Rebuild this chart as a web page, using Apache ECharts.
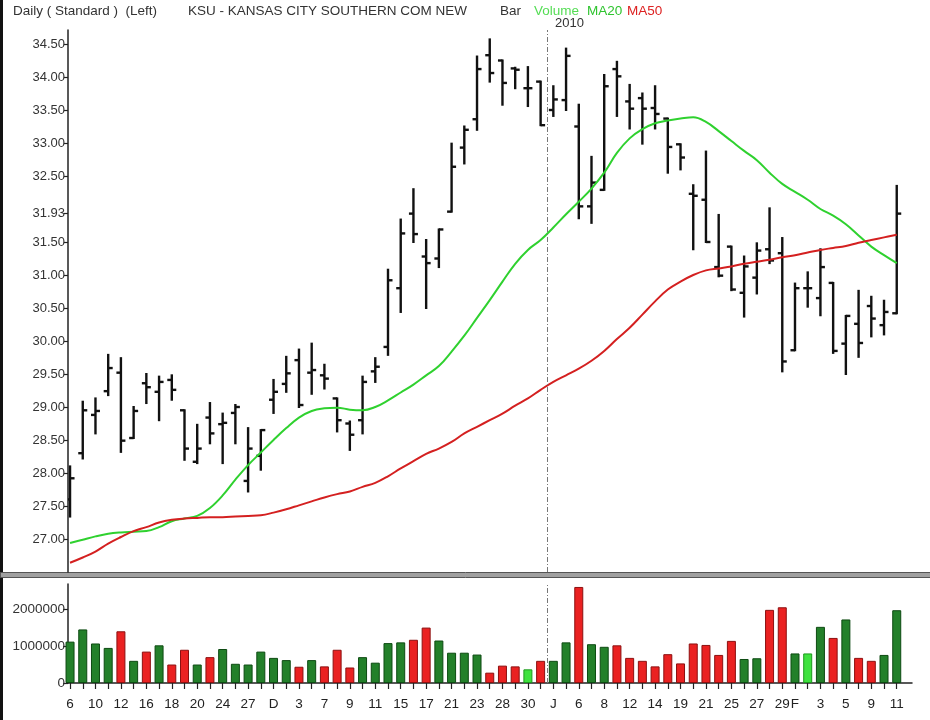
<!DOCTYPE html>
<html>
<head>
<meta charset="utf-8">
<script src="https://cdn.jsdelivr.net/npm/echarts@6.0.0/dist/echarts.min.js"></script>
<style>
  html, body { margin: 0; padding: 0; background: #fff; }
  #chart { width: 930px; height: 720px; }
</style>
</head>
<body>
<div id="chart"></div>
<script>
// ---- Data (KSU daily bars, 6 Nov 2009 – 11 Feb 2010) ----
const dayLabels = ['6','9','10','11','12','13','16','17','18','19','20','23','24','25','27','30',
  '1','2','3','4','7','8','9','10','11','14','15','16','17','18','21','22','23','24','28','29','30','31',
  '4','5','6','7','8','11','12','13','14','15','19','20','21','22','25','26','27','28','29',
  '1','2','3','4','5','8','9','10','11'];
const openP  = [27.60,28.30,28.88,29.24,29.52,28.53,29.36,29.23,29.41,28.95,28.17,28.84,28.74,28.91,27.88,28.26,
  29.11,29.35,29.71,29.52,29.48,29.13,28.75,28.80,29.54,29.91,30.80,31.93,31.28,31.25,31.96,32.93,33.36,34.33,34.25,34.13,33.83,33.93,
  33.50,33.65,33.25,32.04,32.29,34.12,33.63,33.68,33.53,33.37,32.98,32.23,32.14,31.12,31.43,30.73,30.96,31.39,31.33,
  29.86,30.80,30.65,30.88,29.96,30.26,30.53,30.24,30.42];
const highP  = [28.10,29.08,29.13,29.79,29.74,29.00,29.50,29.46,29.48,28.95,28.73,29.06,28.90,29.03,28.68,28.65,
  29.41,29.76,29.87,29.96,29.64,29.13,28.78,29.46,29.74,31.08,31.84,32.30,31.53,31.69,32.99,33.25,34.31,34.57,34.25,34.14,34.15,33.93,
  33.86,34.43,33.58,32.79,34.03,34.23,33.88,33.75,33.86,33.37,32.98,32.36,32.87,31.91,31.43,31.28,31.48,32.01,31.56,
  30.87,31.04,31.39,30.88,30.38,30.76,30.67,30.61,32.35];
const lowP   = [27.34,28.22,28.60,29.18,28.32,28.53,29.06,28.80,29.11,28.20,28.15,28.45,28.15,28.45,27.72,28.05,
  28.91,29.23,29.00,29.20,29.28,28.63,28.35,28.60,29.38,29.79,30.44,31.50,30.50,31.12,31.96,32.69,33.20,33.93,33.58,33.83,33.56,33.27,
  33.41,33.50,31.86,31.79,32.29,33.41,33.22,32.99,33.22,32.55,32.60,31.39,31.50,30.98,30.77,30.37,30.72,31.18,29.54,
  29.86,30.52,30.39,29.82,29.50,29.76,30.07,30.10,30.42];
const closeP = [27.92,28.95,28.94,29.59,28.49,28.94,29.30,29.38,29.26,28.37,28.37,28.60,28.76,29.00,28.37,28.65,
  29.23,29.51,29.03,29.56,29.43,28.80,28.58,29.38,29.61,30.92,31.63,31.62,31.18,31.69,32.64,33.20,34.12,34.06,33.91,34.11,33.83,33.27,
  33.66,34.32,32.04,32.40,33.86,34.01,33.52,33.52,33.44,32.94,32.78,32.20,31.50,30.99,30.78,31.13,31.37,31.22,29.69,
  30.80,30.80,31.12,29.85,30.38,29.97,30.34,30.44,31.93];
const volume = [1120000,1450000,1070000,950000,1400000,600000,850000,1020000,500000,900000,500000,700000,920000,520000,500000,850000,
  680000,620000,440000,620000,450000,900000,420000,700000,550000,1080000,1100000,1170000,1500000,1150000,820000,820000,770000,280000,470000,450000,370000,600000,
  600000,1100000,2600000,1050000,980000,1020000,680000,600000,450000,780000,530000,1070000,1030000,760000,1140000,650000,670000,1980000,2050000,
  800000,800000,1520000,1220000,1720000,680000,600000,760000,1970000];
const ma20 = [26.94,26.99,27.04,27.08,27.10,27.11,27.12,27.18,27.27,27.31,27.35,27.47,27.66,27.90,28.12,28.31,
  28.50,28.68,28.84,28.94,28.98,28.99,28.96,28.95,29.00,29.10,29.22,29.34,29.48,29.62,29.84,30.08,30.35,30.62,30.90,31.17,31.38,31.53,
  31.72,31.92,32.11,32.31,32.55,32.85,33.07,33.21,33.30,33.34,33.37,33.39,33.32,33.18,33.03,32.88,32.74,32.55,32.38,
  32.26,32.14,32.00,31.90,31.77,31.60,31.43,31.30,31.18];
const ma50 = [26.64,26.72,26.81,26.93,27.03,27.12,27.18,27.25,27.29,27.31,27.32,27.33,27.33,27.34,27.35,27.36,
  27.40,27.45,27.51,27.57,27.63,27.68,27.72,27.79,27.85,27.95,28.07,28.18,28.29,28.37,28.47,28.60,28.70,28.80,28.90,29.02,29.13,29.26,
  29.38,29.48,29.58,29.70,29.85,30.03,30.20,30.40,30.60,30.78,30.90,31.00,31.07,31.10,31.13,31.17,31.20,31.23,31.27,
  31.30,31.34,31.38,31.41,31.44,31.49,31.53,31.57,31.61];
const xLabelIdx  = [0,2,4,6,8,10,12,14,16,18,20,22,24,26,28,30,32,34,36,38,40,42,44,46,48,50,52,54,56,57,59,61,63,65];
const xLabelText = ['6','10','12','16','18','20','24','27','D','3','7','9','11','15','17','21','23','28','30','J','6','8','12','14','19','21','25','27','29','F','3','5','9','11'];
const monthStartIdx = [16,38,57];
const priceTicks = [27.00,27.50,28.00,28.50,29.00,29.50,30.00,30.50,31.00,31.50,31.93,32.50,33.00,33.50,34.00,34.50];
const volTicks = [0,1000000,2000000];
const yearBreak = 37.5;

// ---- Build ----
const chart = echarts.init(document.getElementById('chart'), null, {renderer: 'canvas'});
const idx = dayLabels.map((_, i) => i);
const labelMap = {};
xLabelIdx.forEach((v, k) => { labelMap[v] = xLabelText[k]; });
const ohlcData = idx.map(i => [i, openP[i], highP[i], lowP[i], closeP[i]]);
const volData = idx.map(i => {
  let c = '#23802a', b = '#0d4a12';
  if (closeP[i] < openP[i]) { c = '#ea2121'; b = '#8c1010'; }
  else if (closeP[i] === openP[i]) { c = '#3fe23f'; b = '#1c9a1c'; }
  return { value: [i, volume[i]], itemStyle: { color: c, borderColor: b, borderWidth: 1 } };
});
const xMin = -0.16, xMax = 66.2;
const FONT = 'Liberation Sans, Arial, sans-serif';

function renderOHLC(params, api) {
  const x = api.value(0);
  const pO = api.coord([x, api.value(1)]);
  const pH = api.coord([x, api.value(2)]);
  const pL = api.coord([x, api.value(3)]);
  const pC = api.coord([x, api.value(4)]);
  const t = 4.5;
  const st = { stroke: '#111', lineWidth: 2.4 };
  return {
    type: 'group',
    children: [
      { type: 'line', shape: { x1: pH[0], y1: pH[1] - 1, x2: pL[0], y2: pL[1] + 1 }, style: st },
      { type: 'line', shape: { x1: pO[0] - t, y1: pO[1], x2: pO[0], y2: pO[1] }, style: st },
      { type: 'line', shape: { x1: pC[0], y1: pC[1], x2: pC[0] + t, y2: pC[1] }, style: st }
    ]
  };
}

const breakLine = {
  silent: true, symbol: ['none', 'none'], label: { show: false },
  lineStyle: { color: '#777', width: 1, type: [5, 2, 1, 2] },
  data: [{ xAxis: yearBreak }]
};
const axisCol = '#222';

const option = {
  animation: false,
  backgroundColor: '#ffffff',
  textStyle: { fontFamily: FONT },
  grid: [
    { left: 68, right: 18, top: 30, height: 542 },
    { left: 68, right: 18, top: 584, height: 99 }
  ],
  xAxis: [
    { gridIndex: 0, type: 'value', min: xMin, max: xMax,
      axisLine: { show: false }, axisTick: { show: false }, axisLabel: { show: false }, splitLine: { show: false } },
    { gridIndex: 1, type: 'value', min: xMin, max: xMax,
      axisLine: { show: true, onZero: false, lineStyle: { color: axisCol, width: 1.5 } },
      axisTick: { show: true, customValues: idx, length: 6, lineStyle: { color: axisCol, width: 1.2 } },
      axisLabel: { customValues: xLabelIdx, formatter: v => labelMap[Math.round(v)] || '', margin: 14,
        fontSize: 13.5, color: '#222', fontFamily: FONT },
      splitLine: { show: false } },
    { gridIndex: 1, type: 'value', min: xMin, max: xMax,
      axisLine: { show: false },
      axisTick: { show: true, customValues: monthStartIdx, length: 13, lineStyle: { color: axisCol, width: 1.2 } },
      axisLabel: { show: false }, splitLine: { show: false } }
  ],
  yAxis: [
    { gridIndex: 0, type: 'value', min: 26.5, max: 34.712,
      axisLine: { show: true, onZero: false, lineStyle: { color: axisCol, width: 1.5 } },
      axisTick: { show: true, customValues: priceTicks, length: 4, lineStyle: { color: axisCol, width: 1.2 } },
      axisLabel: { customValues: priceTicks, formatter: v => v.toFixed(2), fontSize: 13, color: '#333', margin: 3, fontFamily: FONT },
      splitLine: { show: false } },
    { gridIndex: 1, type: 'value', min: 0, max: 2680000,
      axisLine: { show: true, onZero: false, lineStyle: { color: axisCol, width: 1.5 } },
      axisTick: { show: true, customValues: volTicks, length: 5, lineStyle: { color: axisCol, width: 1.2 } },
      axisLabel: { customValues: volTicks, formatter: v => String(Math.round(v)), fontSize: 13.5, color: '#333', margin: 3, fontFamily: FONT },
      splitLine: { show: false } }
  ],
  series: [
    { name: 'Bar', type: 'custom', xAxisIndex: 0, yAxisIndex: 0, clip: true,
      renderItem: renderOHLC, encode: { x: 0, y: [1, 2, 3, 4] }, data: ohlcData, z: 3,
      markLine: breakLine },
    { name: 'MA20', type: 'line', xAxisIndex: 0, yAxisIndex: 0, smooth: 0.4, showSymbol: false,
      lineStyle: { color: '#2fd12f', width: 2 }, data: idx.map(i => [i, ma20[i]]), z: 4 },
    { name: 'MA50', type: 'line', xAxisIndex: 0, yAxisIndex: 0, smooth: 0.4, showSymbol: false,
      lineStyle: { color: '#d42020', width: 2 }, data: idx.map(i => [i, ma50[i]]), z: 4 },
    { name: 'Volume', type: 'bar', xAxisIndex: 1, yAxisIndex: 1, barWidth: 9, data: volData,
      markLine: breakLine }
  ],
  graphic: [
    { type: 'rect', left: 0, top: 0, shape: { width: 3, height: 720 }, style: { fill: '#111' } },
    { type: 'rect', left: 0, top: 572, shape: { width: 930, height: 5 }, style: { fill: '#a0a0a0', stroke: '#555', lineWidth: 1 } },
    { type: 'text', left: 13, top: 4, style: { text: 'Daily ( Standard )  (Left)', fontSize: 13.5, fill: '#333', fontFamily: FONT } },
    { type: 'text', left: 188, top: 4, style: { text: 'KSU - KANSAS CITY SOUTHERN COM NEW', fontSize: 13.5, fill: '#333', fontFamily: FONT } },
    { type: 'text', left: 500, top: 4, style: { text: 'Bar', fontSize: 13.5, fill: '#333', fontFamily: FONT } },
    { type: 'text', left: 534, top: 4, style: { text: 'Volume', fontSize: 13.5, fill: '#55dd55', fontFamily: FONT } },
    { type: 'text', left: 587, top: 4, style: { text: 'MA20', fontSize: 13.5, fill: '#2fc42f', fontFamily: FONT } },
    { type: 'text', left: 627, top: 4, style: { text: 'MA50', fontSize: 13.5, fill: '#dd2222', fontFamily: FONT } },
    { type: 'text', left: 555, top: 17, style: { text: '2010', fontSize: 13, fill: '#333', fontFamily: FONT } }
  ]
};
chart.setOption(option);
</script>
</body>
</html>
